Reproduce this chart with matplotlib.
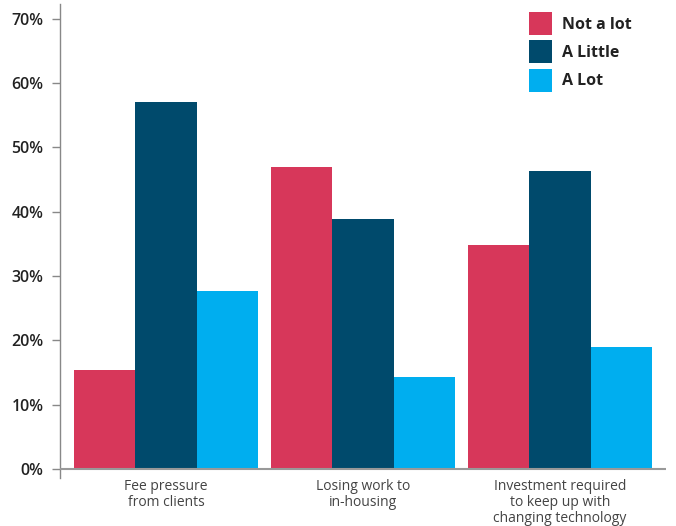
import matplotlib
matplotlib.use("Agg")
import matplotlib.pyplot as plt
from matplotlib.patches import Patch
import numpy as np

categories = ["Fee pressure\nfrom clients", "Losing work to\nin-housing",
              "Investment required\nto keep up with\nchanging technology"]
series_names = ["Not a lot", "A Little", "A Lot"]
not_a_lot = [15.4, 47.0, 34.8]
a_little = [57.1, 38.9, 46.3]
a_lot = [27.7, 14.3, 19.0]
yticks = [0, 10, 20, 30, 40, 50, 60, 70]
ytick_labels = ["0%", "10%", "20%", "30%", "40%", "50%", "60%", "70%"]

colors = ["#D7375A", "#004A6C", "#00AEEF"]
plt.rcParams['font.family'] = ["Open Sans", "DejaVu Sans"]

fig = plt.figure(figsize=(6.76, 5.26), dpi=100)
ax = fig.add_axes([60/676, (526-478)/526, 606/676, 474/526])

x = np.arange(len(categories))
w = 0.31
for i, (vals, c) in enumerate(zip([not_a_lot, a_little, a_lot], colors)):
    ax.bar(x + (i - 1) * w, vals, width=w, color=c, linewidth=0, zorder=2)

ax.set_xlim(-0.538, 2.538)
ax.set_ylim(-1.4, 72.3)
ax.axhline(0, color="#999999", linewidth=1.5, zorder=3)

for s in ["top", "right", "bottom"]:
    ax.spines[s].set_visible(False)
ax.spines["left"].set_color("#888888")
ax.spines["left"].set_linewidth(1.0)

ax.set_yticks(yticks)
ax.set_yticklabels(ytick_labels, fontsize=11.5, fontweight="semibold", color="#222222")
ax.tick_params(axis="y", length=6, width=1.0, color="#888888", pad=6)
ax.set_xticks(x)
ax.set_xticklabels(categories, fontsize=10, color="#444444", linespacing=1.1)
ax.tick_params(axis="x", length=0, pad=0.5)

handles = [Patch(facecolor=c, edgecolor="none") for c in colors]
leg = fig.legend(handles, series_names, loc="upper left",
                 bbox_to_anchor=(529/676, 1 - 12/526), frameon=False,
                 borderpad=0, borderaxespad=0, handlelength=1.45, handleheight=1.84,
                 handletextpad=0.6, labelspacing=0.33,
                 prop={"size": 11.5, "weight": "bold"})
for t in leg.get_texts():
    t.set_color("#222222")

fig.savefig("out.png", dpi=100)
